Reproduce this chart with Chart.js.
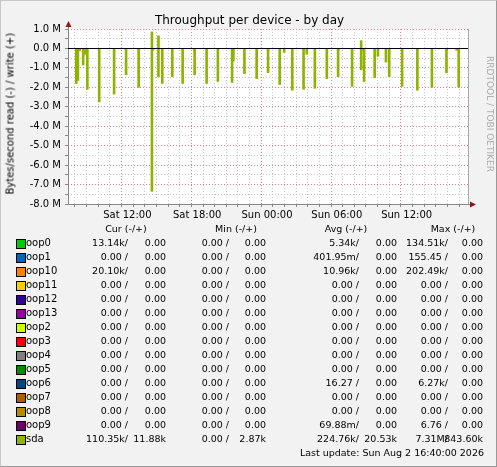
<!DOCTYPE html>
<html><head><meta charset="utf-8">
<script src="https://cdn.jsdelivr.net/npm/chart.js@4"></script>
<style>
body{margin:0;background:#fff;}
#wrap{position:relative;width:495px;height:465px;background:#f2f2f2;border:1px solid #c8c8c8;border-right-color:#999;border-bottom-color:#999;font-family:"DejaVu Sans",sans-serif;font-size:9.5px;color:#000;overflow:hidden}
canvas{position:absolute;left:0;top:0}
.t{position:absolute;white-space:nowrap}
.r{position:absolute;white-space:nowrap;text-align:right}
.box{position:absolute;width:8px;height:8px;border:1px solid #000}
</style></head><body>
<div id="wrap">
<canvas id="c" width="497" height="225"></canvas>
<div class="t" style="left:0;width:497px;text-align:center;top:12px;font-size:12px">Throughput per device - by day</div>
<div class="t" style="left:-71px;top:108px;width:160px;text-align:center;transform:rotate(-90deg);font-size:10px;color:#000">Bytes/second read (-) / write (+)</div>
<div class="t" style="left:424px;top:108px;width:130px;text-align:center;transform:rotate(90deg);color:#aaa;font-size:9px">RRDTOOL / TOBI OETIKER</div>
<div id="leg"></div>
</div>
<script>
// times in hours since Sat 00:00
const sdaTimes=[7.61,7.75,8.2,8.39,8.56,9.58,10.86,11.89,12.97,14.11,14.67,15.0,15.86,16.75,17.78,18.81,19.78,21.0,21.11,22.06,23.11,24.09,25.09,25.48,26.17,27.14,27.42,28.11,29.14,30.11,31.31,32.09,32.34,33.25,33.53,34.22,34.5,35.61,36.92,38.17,39.42,40.47];
const sdaRead=[-1.8,-1.65,-0.85,-0.3,-2.1,-2.75,-2.35,-1.35,-2.0,-7.35,-1.45,-1.8,-1.45,-1.8,-1.35,-1.8,-1.7,-1.75,-0.65,-1.3,-1.55,-1.25,-1.85,-0.2,-2.15,-2.1,-0.3,-2.05,-1.55,-1.45,-1.95,-1.1,-1.7,-1.5,-0.4,-0.7,-1.45,-1.95,-2.15,-2.0,-1.25,-2.0];
const sdaWriteTimes=[14.11,14.67,32.09];
const sdaWrite=[0.85,0.65,0.4];
const loop10Times=[7.9,12.97,14.2,17.78,21.11,24.09,27.14,30.11,32.2,36.92,39.42,40.3];
const loop10Read=[-0.12,-0.08,-0.1,-0.1,-0.08,-0.1,-0.08,-0.1,-0.1,-0.08,-0.1,-0.1];
const xTickLabels={12:'Sat 12:00',18:'Sat 18:00',24:'Sun 00:00',30:'Sun 06:00',36:'Sun 12:00'};

const rows=[
['oop0','#00cc00','13.14k/','0.00','0.00 /','0.00','5.34k/','0.00','134.51k/','0.00'],
['oop1','#0066b3','0.00 /','0.00','0.00 /','0.00','401.95m/','0.00','155.45 /','0.00'],
['oop10','#ff8000','20.10k/','0.00','0.00 /','0.00','10.96k/','0.00','202.49k/','0.00'],
['oop11','#ffcc00','0.00 /','0.00','0.00 /','0.00','0.00 /','0.00','0.00 /','0.00'],
['oop12','#330099','0.00 /','0.00','0.00 /','0.00','0.00 /','0.00','0.00 /','0.00'],
['oop13','#990099','0.00 /','0.00','0.00 /','0.00','0.00 /','0.00','0.00 /','0.00'],
['oop2','#ccff00','0.00 /','0.00','0.00 /','0.00','0.00 /','0.00','0.00 /','0.00'],
['oop3','#ff0000','0.00 /','0.00','0.00 /','0.00','0.00 /','0.00','0.00 /','0.00'],
['oop4','#808080','0.00 /','0.00','0.00 /','0.00','0.00 /','0.00','0.00 /','0.00'],
['oop5','#008f00','0.00 /','0.00','0.00 /','0.00','0.00 /','0.00','0.00 /','0.00'],
['oop6','#00487d','0.00 /','0.00','0.00 /','0.00','16.27 /','0.00','6.27k/','0.00'],
['oop7','#b35a00','0.00 /','0.00','0.00 /','0.00','0.00 /','0.00','0.00 /','0.00'],
['oop8','#b38f00','0.00 /','0.00','0.00 /','0.00','0.00 /','0.00','0.00 /','0.00'],
['oop9','#6b006b','0.00 /','0.00','0.00 /','0.00','69.88m/','0.00','6.76 /','0.00'],
['sda','#8fb300','110.35k/','11.88k','0.00 /','2.87k','224.76k/','20.53k','7.31M/','843.60k']];
const headers=['Cur (-/+)','Min (-/+)','Avg (-/+)','Max (-/+)'];

let h='';
const hx=[125,235,345,452], rx=[127,228,358,447], wx=[165,265,396,482];
headers.forEach((t,i)=>h+=`<div class="t" style="left:${hx[i]-40}px;width:80px;text-align:center;top:222px">${t}</div>`);
rows.forEach((r,i)=>{const y=236+14*i;
 h+=`<div class="box" style="left:15px;top:${y+2}px;background:${r[1]}"></div><div class="t" style="left:25px;top:${y}px;font-size:10px">${r[0]}</div>`;
 for(let k=0;k<4;k++){h+=`<div class="r" style="left:${rx[k]-70}px;width:70px;top:${y}px">${r[2+2*k]}</div><div class="r" style="left:${wx[k]-60}px;width:60px;top:${y}px">${r[3+2*k]}</div>`;}
});
h+=`<div class="r" style="left:250px;width:233px;top:446px">Last update: Sun Aug  2 16:40:00 2026</div>`;
document.getElementById('leg').innerHTML=h;

const arrows={id:'arrows',afterDraw(c){const a=c.chartArea,x=c.ctx;x.save();
 x.strokeStyle='#888';x.lineWidth=1;x.beginPath();x.moveTo(a.left+0.5,a.top-2);x.lineTo(a.left+0.5,a.bottom+0.5);x.lineTo(a.right+3,a.bottom+0.5);x.stroke();
 x.strokeStyle='#aaa';x.beginPath();x.moveTo(a.right+0.5,a.top);x.lineTo(a.right+0.5,a.bottom);x.stroke();
 x.fillStyle='#8b1a1a';
 x.beginPath();x.moveTo(a.left-2.5,a.top-2);x.lineTo(a.left+3.5,a.top-2);x.lineTo(a.left+0.5,a.top-8);x.fill();
 x.beginPath();x.moveTo(a.right+2,a.bottom-2.5);x.lineTo(a.right+2,a.bottom+3.5);x.lineTo(a.right+8,a.bottom+0.5);x.fill();
 x.strokeStyle='#000';const y0=Math.round(c.scales.y.getPixelForValue(0));x.beginPath();x.moveTo(a.left,y0+0.5);x.lineTo(a.right,y0+0.5);x.stroke();x.restore();}};
const bg={id:'bg',beforeDraw(c){const a=c.chartArea,x=c.ctx;x.fillStyle='#f2f2f2';x.fillRect(0,0,c.width,c.height);x.fillStyle='#fff';x.fillRect(a.left,a.top,a.right-a.left,a.bottom-a.top);}};

new Chart(document.getElementById('c'),{type:'bar',
 data:{datasets:[
  {data:sdaTimes.map((t,i)=>({x:t,y:sdaRead[i]})),backgroundColor:'#8fb300',barThickness:2,grouped:false},
  {data:sdaWriteTimes.map((t,i)=>({x:t,y:sdaWrite[i]})),backgroundColor:'#8fb300',barThickness:2,grouped:false},
  {data:loop10Times.map((t,i)=>({x:t,y:loop10Read[i]})),backgroundColor:'#ff8000',barThickness:2,grouped:false}]},
 options:{responsive:false,animation:false,devicePixelRatio:1,
  layout:{padding:{left:0,right:30,top:28,bottom:0}},
  plugins:{legend:{display:false},tooltip:{enabled:false}},
  scales:{
   x:{type:'linear',min:7.42,max:40.75,afterFit:s=>{s.height=22},
    afterBuildTicks:s=>{s.ticks=[];for(let v=8;v<=40;v++)s.ticks.push({value:v});},
    ticks:{autoSkip:false,maxRotation:0,font:{family:'DejaVu Sans',size:10},color:'#000',padding:2,callback:v=>xTickLabels[v]||''},
    grid:{color:c=>xTickLabels[c.tick&&c.tick.value]?'#e88080':'#c8c8c8',lineWidth:1,drawTicks:true,tickLength:3,tickColor:'#888'},border:{display:false,dash:[1,2]}},
   y:{min:-8,max:1,afterFit:s=>{s.width=67},
    afterBuildTicks:s=>{s.ticks=[];for(let v=-16;v<=2;v++)s.ticks.push({value:v/2});},
    ticks:{autoSkip:false,font:{family:'DejaVu Sans',size:10},color:'#000',padding:4,callback:v=>Number.isInteger(v)?v.toFixed(1)+' M':''},
    grid:{color:c=>Number.isInteger(c.tick&&c.tick.value)?'#e88080':'#c8c8c8',lineWidth:1,tickLength:3,tickColor:'#888'},border:{display:false,dash:[1,2]}}
  }},
 plugins:[bg,arrows]});
</script></body></html>
